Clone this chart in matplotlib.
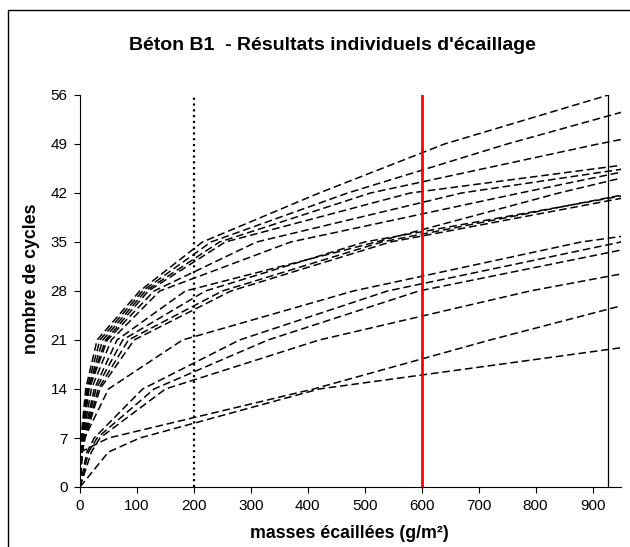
import matplotlib
matplotlib.use('Agg')
import matplotlib.pyplot as plt
from matplotlib.patches import Rectangle

plt.rcParams['font.family'] = ['Liberation Sans', 'DejaVu Sans']

# number of cycles at which each specimen was weighed
cycles = [0, 5, 7, 14, 21, 28, 35, 42, 49, 56]

# cumulative scaled mass (g/m2) for each specimen at those cycles
e1 = [0, 1, 2, 10, 30, 105, 215, 420, 640, 928]
e2 = [0, 1, 3, 12, 35, 110, 230, 470, 750, 1060]
e3 = [0, 2, 4, 14, 40, 115, 245, 510, 910, 1350]
e4 = [0, 1, 3, 15, 45, 120, 255, 580, 1235, 1700]
e5 = [0, 2, 4, 16, 48, 130, 310, 670, 1250, 1800]
e6 = [0, 2, 5, 20, 55, 140, 370, 773, 1190, 1700]
e7 = [0, 3, 6, 25, 65, 185, 520, 841, 1200, 1600]
e8 = [0, 3, 7, 28, 75, 220, 500, 980, 1500, 2000]
e9 = [0, 4, 8, 32, 85, 250, 530, 970, 1500, 2000]
e10 = [0, 4, 9, 35, 95, 265, 545, 1000, 1500, 2000]
e11 = [0, 3, 8, 50, 180, 480, 880, 1500, 2100, 2800]
e12 = [0, 12, 25, 110, 280, 540, 950, 1500, 2100, 2800]
e13 = [0, 15, 30, 130, 330, 595, 1020, 1600, 2200, 2900]
e14 = [0, 20, 35, 150, 420, 790, 1250, 1800, 2400, 3000]
e15 = [0, 1, 50, 410, 720, 1050, 1400, 1800, 2300, 2800]
e16 = [0, 50, 105, 420, 1050, 1500, 2000, 2500, 3000, 3500]
specimens = [e1, e2, e3, e4, e5, e6, e7, e8, e9, e10, e11, e12, e13, e14, e15, e16]

# reference lines
limit_dotted = 200
limit_red = 600
limit_black = 928

x_ticks = [0, 100, 200, 300, 400, 500, 600, 700, 800, 900]
y_ticks = [0, 7, 14, 21, 28, 35, 42, 49, 56]

fig = plt.figure(figsize=(6.3, 5.47), dpi=100)
ax = fig.add_axes([80 / 630, 1 - 487 / 547, (621 - 80) / 630, (487 - 95) / 547])

for masses in specimens:
    ax.plot(masses, cycles, color='black', lw=1.1, linestyle=(0, (5, 2.5)))

ax.plot([limit_dotted, limit_dotted], [0, 56], color='black', lw=1.6, linestyle=(0, (1, 1.6)))
ax.plot([limit_red, limit_red], [0, 56], color='#ff0000', lw=2.0)
ax.plot([limit_black, limit_black], [0, 56], color='black', lw=0.9)

ax.set_xlim(0, 950)
ax.set_ylim(0, 56)
ax.set_xticks(x_ticks)
ax.set_yticks(y_ticks)
ax.tick_params(labelsize=11, length=4, width=0.8, colors='black', pad=5)
for side in ['top', 'right']:
    ax.spines[side].set_visible(False)
for side in ['left', 'bottom']:
    ax.spines[side].set_linewidth(0.8)

fig.text(332 / 630, 1 - 45 / 547, "Béton B1  - Résultats individuels d'écaillage",
         ha='center', va='center', fontsize=14, fontweight='bold')
fig.text(349 / 630, 1 - 533 / 547, 'masses écaillées (g/m²)',
         ha='center', va='center', fontsize=12.8, fontweight='bold')
fig.text(32 / 630, 1 - 279 / 547, 'nombre de cycles', rotation=90,
         ha='center', va='center', fontsize=12.8, fontweight='bold')

# chart area border (cut by the right and bottom image edges)
fig.patches.append(Rectangle((8 / 630, -0.05), 1.2, 1 - 10 / 547 + 0.05,
                             transform=fig.transFigure, fill=False,
                             edgecolor='black', lw=1.0))

fig.savefig('out.png', dpi=100)
